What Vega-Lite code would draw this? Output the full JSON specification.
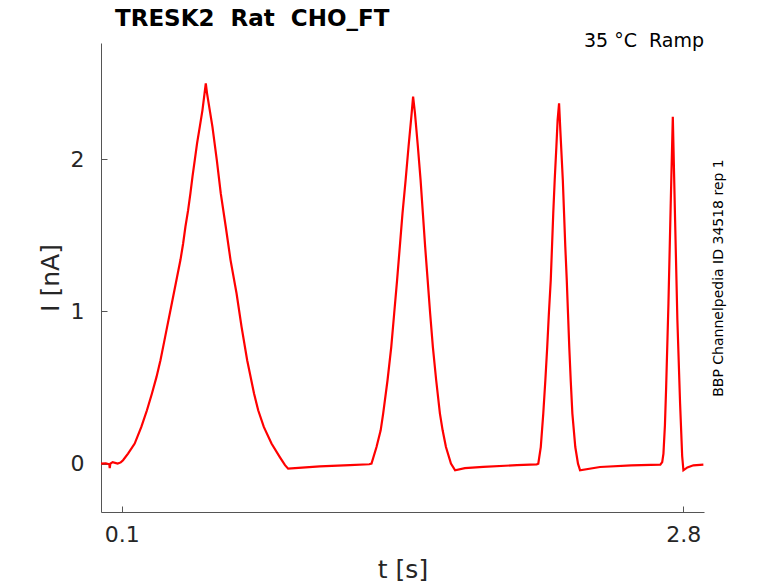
{
  "$schema": "https://vega.github.io/schema/vega-lite/v6.json",
  "width": 603,
  "height": 469,
  "autosize": {"type": "none"},
  "padding": {"left": 101, "top": 43, "right": 74, "bottom": 71},
  "background": "white",
  "config": {
    "view": {"stroke": null},
    "font": "DejaVu Sans",
    "axis": {
      "grid": false,
      "domainColor": "#555555",
      "tickColor": "#555555",
      "tickSize": -6,
      "labelColor": "#262626",
      "titleColor": "#262626",
      "labelFont": "DejaVu Sans",
      "titleFont": "DejaVu Sans",
      "labelFontSize": 22,
      "titleFontSize": 25,
      "titleFontWeight": "normal"
    }
  },
  "title": {
    "text": "TRESK2\u00a0 Rat\u00a0 CHO_FT",
    "anchor": "start",
    "frame": "group",
    "dx": 14,
    "dy": 34,
    "offset": 12,
    "baseline": "bottom",
    "font": "DejaVu Sans",
    "fontSize": 23,
    "fontWeight": "bold",
    "color": "black"
  },
  "layer": [
    {
      "data": {
        "values": [
          {"t": 0.0, "I": 0.0},
          {"t": 0.023, "I": 0.002},
          {"t": 0.04, "I": -0.005},
          {"t": 0.042, "I": -0.03},
          {"t": 0.045, "I": 0.0},
          {"t": 0.056, "I": 0.01},
          {"t": 0.08, "I": 0.0},
          {"t": 0.095, "I": 0.008},
          {"t": 0.106, "I": 0.022},
          {"t": 0.13, "I": 0.066},
          {"t": 0.162, "I": 0.132},
          {"t": 0.194, "I": 0.241},
          {"t": 0.221, "I": 0.351},
          {"t": 0.245, "I": 0.461},
          {"t": 0.267, "I": 0.57},
          {"t": 0.286, "I": 0.68},
          {"t": 0.302, "I": 0.789},
          {"t": 0.318, "I": 0.899},
          {"t": 0.334, "I": 1.008},
          {"t": 0.35, "I": 1.118},
          {"t": 0.366, "I": 1.228},
          {"t": 0.382, "I": 1.338},
          {"t": 0.395, "I": 1.447},
          {"t": 0.406, "I": 1.557},
          {"t": 0.419, "I": 1.666},
          {"t": 0.43, "I": 1.776},
          {"t": 0.44, "I": 1.886},
          {"t": 0.451, "I": 1.995},
          {"t": 0.462, "I": 2.105},
          {"t": 0.475, "I": 2.214},
          {"t": 0.488, "I": 2.324},
          {"t": 0.498, "I": 2.434},
          {"t": 0.504, "I": 2.5},
          {"t": 0.51, "I": 2.434},
          {"t": 0.536, "I": 2.214},
          {"t": 0.557, "I": 1.995},
          {"t": 0.576, "I": 1.776},
          {"t": 0.6, "I": 1.557},
          {"t": 0.623, "I": 1.338},
          {"t": 0.652, "I": 1.118},
          {"t": 0.676, "I": 0.899},
          {"t": 0.703, "I": 0.68},
          {"t": 0.736, "I": 0.461},
          {"t": 0.756, "I": 0.351},
          {"t": 0.783, "I": 0.241},
          {"t": 0.82, "I": 0.132},
          {"t": 0.86, "I": 0.043},
          {"t": 0.885, "I": -0.01},
          {"t": 0.9, "I": -0.033},
          {"t": 0.95, "I": -0.028},
          {"t": 1.052, "I": -0.018},
          {"t": 1.197, "I": -0.01},
          {"t": 1.29, "I": -0.004},
          {"t": 1.301, "I": 0.0},
          {"t": 1.325, "I": 0.109},
          {"t": 1.345, "I": 0.219},
          {"t": 1.357, "I": 0.329},
          {"t": 1.378, "I": 0.548},
          {"t": 1.396, "I": 0.767},
          {"t": 1.41, "I": 0.987},
          {"t": 1.424, "I": 1.206},
          {"t": 1.437, "I": 1.425},
          {"t": 1.45, "I": 1.645},
          {"t": 1.465, "I": 1.864},
          {"t": 1.479, "I": 2.083},
          {"t": 1.494, "I": 2.303},
          {"t": 1.501, "I": 2.412},
          {"t": 1.51, "I": 2.303},
          {"t": 1.524, "I": 2.083},
          {"t": 1.537, "I": 1.864},
          {"t": 1.548, "I": 1.645},
          {"t": 1.559, "I": 1.425},
          {"t": 1.571, "I": 1.206},
          {"t": 1.583, "I": 0.987},
          {"t": 1.596, "I": 0.767},
          {"t": 1.612, "I": 0.548},
          {"t": 1.63, "I": 0.329},
          {"t": 1.643, "I": 0.219},
          {"t": 1.659, "I": 0.109},
          {"t": 1.683, "I": 0.0},
          {"t": 1.703, "I": -0.044},
          {"t": 1.75, "I": -0.03},
          {"t": 1.838, "I": -0.022},
          {"t": 2.0, "I": -0.01},
          {"t": 2.095, "I": -0.005},
          {"t": 2.103, "I": 0.0},
          {"t": 2.115, "I": 0.109},
          {"t": 2.127, "I": 0.329},
          {"t": 2.137, "I": 0.548},
          {"t": 2.146, "I": 0.767},
          {"t": 2.154, "I": 0.987},
          {"t": 2.163, "I": 1.206},
          {"t": 2.169, "I": 1.425},
          {"t": 2.175, "I": 1.645},
          {"t": 2.182, "I": 1.864},
          {"t": 2.19, "I": 2.083},
          {"t": 2.196, "I": 2.258},
          {"t": 2.203, "I": 2.368},
          {"t": 2.209, "I": 2.193},
          {"t": 2.221, "I": 1.864},
          {"t": 2.227, "I": 1.645},
          {"t": 2.233, "I": 1.425},
          {"t": 2.24, "I": 1.206},
          {"t": 2.246, "I": 0.987},
          {"t": 2.252, "I": 0.767},
          {"t": 2.259, "I": 0.548},
          {"t": 2.267, "I": 0.329},
          {"t": 2.281, "I": 0.109},
          {"t": 2.294, "I": 0.0},
          {"t": 2.304, "I": -0.044},
          {"t": 2.4, "I": -0.022},
          {"t": 2.55, "I": -0.012},
          {"t": 2.69, "I": -0.007},
          {"t": 2.699, "I": 0.01},
          {"t": 2.705, "I": 0.066},
          {"t": 2.712, "I": 0.25},
          {"t": 2.718, "I": 0.504},
          {"t": 2.729, "I": 1.053},
          {"t": 2.74, "I": 1.711},
          {"t": 2.75, "I": 2.28},
          {"t": 2.761, "I": 1.601},
          {"t": 2.772, "I": 0.943},
          {"t": 2.785, "I": 0.395},
          {"t": 2.795, "I": 0.05},
          {"t": 2.801, "I": -0.044},
          {"t": 2.82, "I": -0.025},
          {"t": 2.849, "I": -0.011},
          {"t": 2.897, "I": -0.007}
        ]
      },
      "mark": {"type": "line", "color": "#ff0000", "strokeWidth": 2.2},
      "encoding": {
        "x": {
          "field": "t",
          "type": "quantitative",
          "scale": {"domain": [0, 2.9], "nice": false, "zero": false},
          "axis": {
            "title": "t [s]",
            "values": [0.1, 2.8],
            "labelPadding": 18,
            "titleY": 65,
            "titleBaseline": "alphabetic"
          }
        },
        "y": {
          "field": "I",
          "type": "quantitative",
          "scale": {"domain": [-0.318, 2.765], "nice": false, "zero": false},
          "axis": {
            "title": "I [nA]",
            "values": [0, 1, 2],
            "labelPadding": 23,
            "titleX": -43,
            "titleBaseline": "alphabetic"
          }
        }
      }
    },
    {
      "data": {"values": [{"t": 2.9, "I": 2.739, "label": "35 °C\u00a0 Ramp"}]},
      "mark": {"type": "text", "align": "right", "baseline": "alphabetic", "fontSize": 19, "font": "DejaVu Sans", "color": "black"},
      "encoding": {
        "x": {"field": "t", "type": "quantitative", "scale": {"domain": [0, 2.9], "nice": false, "zero": false}},
        "y": {
          "field": "I",
          "type": "quantitative",
          "scale": {"domain": [-0.318, 2.765], "nice": false, "zero": false},
          "axis": {
            "orient": "right",
            "title": "BBP Channelpedia ID 34518 rep 1",
            "domain": false,
            "ticks": false,
            "labels": false,
            "titleFontSize": 14,
            "titleColor": "black",
            "titleAngle": -90,
            "titleX": 18,
            "titleBaseline": "alphabetic"
          }
        },
        "text": {"field": "label"}
      }
    }
  ],
  "resolve": {"scale": {"y": "independent"}}
}
